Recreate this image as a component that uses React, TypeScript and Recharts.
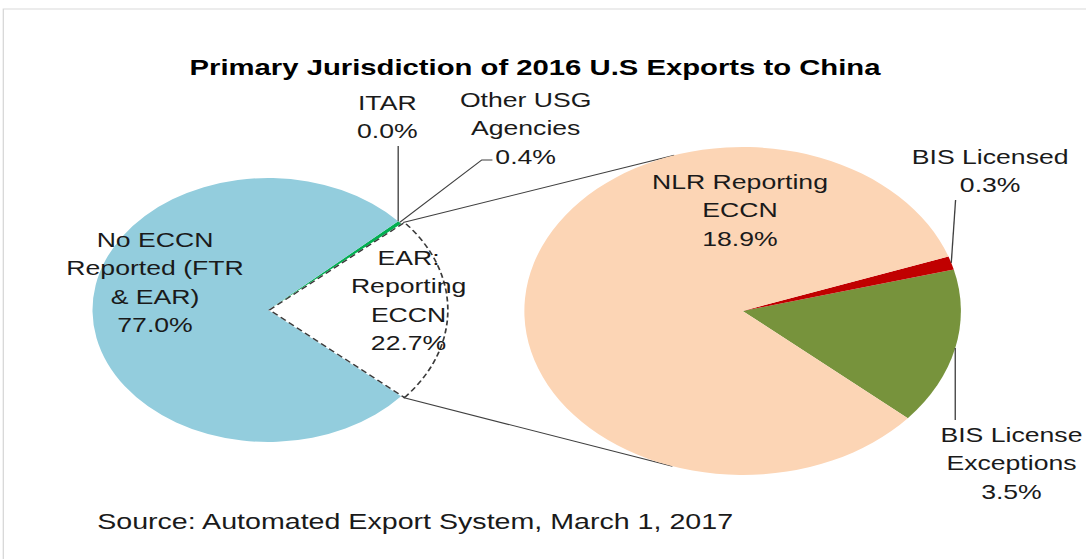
import { PieChart, Pie, Cell, Customized } from "recharts"

// left pie: primary jurisdiction shares (%)
const leftNames = ["EAR: Reporting ECCN", "Other USG Agencies", "ITAR", "No ECCN Reported (FTR & EAR)"]
const leftValues = [22.7, 0.4, 0.0, 77.0]
const leftLines = [["EAR:", "Reporting", "ECCN"], ["Other USG", "Agencies"], ["ITAR"], ["No ECCN", "Reported (FTR", "& EAR)"]]
const leftColors = ["#FFFFFF", "#00B050", "#7F7F7F", "#93CDDD"]

// right pie: breakdown of EAR reporting ECCN (%)
const rightNames = ["BIS License Exceptions", "BIS Licensed", "NLR Reporting ECCN"]
const rightValues = [3.5, 0.3, 18.9]
const rightLines = [["BIS License", "Exceptions"], ["BIS Licensed"], ["NLR Reporting", "ECCN"]]
const rightColors = ["#77933C", "#C00000", "#FCD5B5"]

const title = "Primary Jurisdiction of 2016 U.S Exports to China"
const source = "Source: Automated Export System, March 1, 2017"

// the original picture is stretched horizontally, so draw narrow and scale x
const W = 816
const H = 559
const SX = 1086 / W
const LEFT = { cx: 201.5, cy: 310, r: 132 }
const RIGHT = { cx: 558, cy: 311, r: 164 }
const FONT = "'Liberation Sans', Arial, sans-serif"
const LINE_H = 28.5
const INK = "#1A1A1A"
const LEADER = "#404040"

type Pt = { x?: number; y: number }
type LabelPos = { dx: number; dy: number; leader?: Pt[] }

// label placement, relative to each pie's centre; leader x undefined = straight up/down from slice edge
const leftLabelPos: LabelPos[] = [
  { dx: 105.5, dy: -52 },
  { dx: 193.5, dy: -210, leader: [{ x: 160.5, y: -150 }, { x: 168.5, y: -150 }] },
  { dx: 89.5, dy: -207, leader: [{ y: -164 }] },
  { dx: -85, dy: -70 },
]
const rightLabelPos: LabelPos[] = [
  { dx: 202, dy: 124, leader: [{ y: 109 }] },
  { dx: 186, dy: -154, leader: [{ x: 160, y: -111 }] },
  { dx: -2, dy: -129 },
]

const toData = (names: string[], values: number[]) => names.map((name, i) => ({ name, value: values[i] }))

function makeLabel(lines: string[][], values: number[], pos: LabelPos[]) {
  return (p: any) => {
    const { cx, cy, midAngle, outerRadius, index } = p
    const cfg = pos[index]
    const rad = Math.PI / 180
    const ex = cx + outerRadius * Math.cos(-midAngle * rad)
    const ey = cy + outerRadius * Math.sin(-midAngle * rad)
    const text = [...lines[index], values[index].toFixed(1) + "%"]
    const pts = cfg.leader ? [{ x: ex, y: ey }, ...cfg.leader.map((q) => ({ x: q.x === undefined ? ex : cx + q.x, y: cy + q.y }))] : []
    return (
      <g key={`lbl-${index}`}>
        {pts.length > 0 && (
          <polyline points={pts.map((q) => `${q.x},${q.y}`).join(" ")} fill="none" stroke={LEADER} strokeWidth={1} />
        )}
        {text.map((t, j) => (
          <text
            key={j}
            x={cx + cfg.dx}
            y={cy + cfg.dy + j * LINE_H}
            textAnchor="middle"
            dominantBaseline="central"
            fontFamily={FONT}
            fontSize={20}
            fill={INK}
          >
            {t}
          </text>
        ))}
      </g>
    )
  }
}

const leftTotal = leftValues.reduce((a, b) => a + b, 0)
const START = -(leftValues[0] / leftTotal) * 180

// tangent point from p to circle c
function tangent(px: number, py: number, c: { cx: number; cy: number; r: number }, sign: number) {
  const vx = px - c.cx
  const vy = py - c.cy
  const d = Math.hypot(vx, vy)
  const a = Math.acos(c.r / d) * sign
  const th = Math.atan2(vy, vx)
  return { x: c.cx + c.r * Math.cos(th + a), y: c.cy + c.r * Math.sin(th + a) }
}

function Extras() {
  const rad = Math.PI / 180
  const rr = LEFT.r + 2
  const top = { x: LEFT.cx + rr * Math.cos(START * rad), y: LEFT.cy + rr * Math.sin(START * rad) }
  const bot = { x: LEFT.cx + rr * Math.cos(-START * rad), y: LEFT.cy + rr * Math.sin(-START * rad) }
  const t1 = tangent(top.x, top.y, RIGHT, 1)
  const t2 = tangent(bot.x, bot.y, RIGHT, -1)
  return (
    <g>
      <rect x={2.5} y={9} width={W + 20} height={H + 20} fill="none" stroke="#D9D9D9" strokeWidth={1} />
      <line x1={top.x} y1={top.y} x2={t1.x} y2={t1.y} stroke={LEADER} strokeWidth={1} />
      <line x1={bot.x} y1={bot.y} x2={t2.x} y2={t2.y} stroke={LEADER} strokeWidth={1} />
      <text x={402} y={67} textAnchor="middle" dominantBaseline="central" fontFamily={FONT} fontSize={22} fontWeight="bold" fill="#000">
        {title}
      </text>
      <text x={73} y={521} dominantBaseline="central" fontFamily={FONT} fontSize={21.5} fill={INK}>
        {source}
      </text>
    </g>
  )
}

export default function App() {
  const leftData = toData(leftNames, leftValues)
  return (
    <div
      style={{
        position: "absolute",
        left: 0,
        top: 0,
        width: W,
        height: H,
        background: "#fff",
        transform: `scaleX(${SX})`,
        transformOrigin: "0 0",
      }}
    >
      <PieChart width={W} height={H} margin={{ top: 0, right: 0, bottom: 0, left: 0 }}>
        <Pie
          data={leftData}
          dataKey="value"
          cx={LEFT.cx}
          cy={LEFT.cy}
          outerRadius={LEFT.r}
          startAngle={START}
          endAngle={START + 360}
          stroke="none"
          label={makeLabel(leftLines, leftValues, leftLabelPos)}
          labelLine={false}
          isAnimationActive={false}
        >
          {leftColors.map((c, i) => (
            <Cell key={i} fill={c} />
          ))}
        </Pie>
        {/* dashed outline of the EAR slice, drawn on top so neighbours don't hide it */}
        <Pie
          data={leftData}
          dataKey="value"
          cx={LEFT.cx + 1}
          cy={LEFT.cy}
          outerRadius={LEFT.r + 2}
          startAngle={START}
          endAngle={START + 360}
          stroke="none"
          fill="none"
          label={false}
          labelLine={false}
          isAnimationActive={false}
        >
          {leftColors.map((c, i) =>
            i === 0 ? (
              <Cell key={i} fill="none" stroke="#3A3A3A" strokeWidth={1.3} strokeDasharray="5 3" />
            ) : (
              <Cell key={i} fill="none" stroke="none" />
            )
          )}
        </Pie>
        <Pie
          data={toData(rightNames, rightValues)}
          dataKey="value"
          cx={RIGHT.cx}
          cy={RIGHT.cy}
          outerRadius={RIGHT.r}
          startAngle={START}
          endAngle={START + 360}
          stroke="none"
          label={makeLabel(rightLines, rightValues, rightLabelPos)}
          labelLine={false}
          isAnimationActive={false}
        >
          {rightColors.map((c, i) => (
            <Cell key={i} fill={c} />
          ))}
        </Pie>
        <Customized component={Extras} />
      </PieChart>
    </div>
  )
}
